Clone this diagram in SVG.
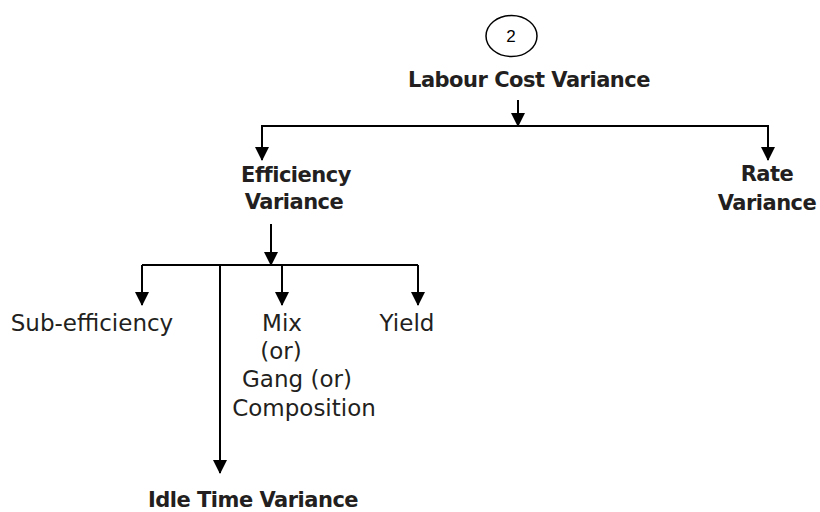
<svg xmlns="http://www.w3.org/2000/svg" width="820" height="512" viewBox="0 0 820 512">
<defs>
<marker id="ah" markerUnits="userSpaceOnUse" markerWidth="14" markerHeight="14" refX="13" refY="7" orient="auto">
<path d="M0,0 L14,7 L0,14 z" fill="#000"/>
</marker>
<style>
.b{font-family:"DejaVu Sans","Liberation Sans",sans-serif;font-weight:bold;font-size:21px;letter-spacing:-0.5px;fill:#231f20;text-anchor:middle}
.r{font-family:"DejaVu Sans","Liberation Sans",sans-serif;font-size:23px;fill:#231f20;text-anchor:middle}
.c{stroke:#000;stroke-width:2;fill:none}
.a{marker-end:url(#ah)}
</style>
</defs>
<rect width="820" height="512" fill="#fff"/>
<g id="connectors">
<line class="c a" x1="518" y1="100" x2="518" y2="126"/>
<polyline class="c" points="262,127 262,126 768,126 768,127"/>
<line class="c a" x1="262" y1="126" x2="262" y2="160"/>
<line class="c a" x1="768" y1="126" x2="768" y2="160"/>
<line class="c a" x1="271" y1="224" x2="271" y2="265"/>
<line class="c" x1="142" y1="265" x2="418" y2="265"/>
<line class="c a" x1="142" y1="265" x2="142" y2="305"/>
<line class="c a" x1="282" y1="265" x2="282" y2="305"/>
<line class="c a" x1="418" y1="265" x2="418" y2="305"/>
<line class="c a" x1="220" y1="265" x2="220" y2="473"/>
</g>
<g id="n-num">
<ellipse cx="511.5" cy="36" rx="25.5" ry="20.5" fill="none" stroke="#000" stroke-width="1.5"/>
<text x="511" y="42" font-family="Liberation Sans, sans-serif" font-size="17" text-anchor="middle" fill="#000">2</text>
</g>
<g id="n-labour"><text class="b" x="529" y="87">Labour Cost Variance</text></g>
<g id="n-eff"><text class="b" x="296" y="182">Efficiency</text><text class="b" x="294" y="209">Variance</text></g>
<g id="n-rate"><text class="b" x="767" y="181">Rate</text><text class="b" x="767" y="210">Variance</text></g>
<g id="n-sub"><text class="r" x="92" y="331">Sub-efficiency</text></g>
<g id="n-mix"><text class="r" x="282" y="331">Mix</text><text class="r" x="281" y="359">(or)</text><text class="r" x="297" y="387">Gang (or)</text><text class="r" x="304" y="416">Composition</text></g>
<g id="n-yield"><text class="r" x="407" y="331">Yield</text></g>
<g id="n-idle"><text class="b" x="253" y="507">Idle Time Variance</text></g>
</svg>
